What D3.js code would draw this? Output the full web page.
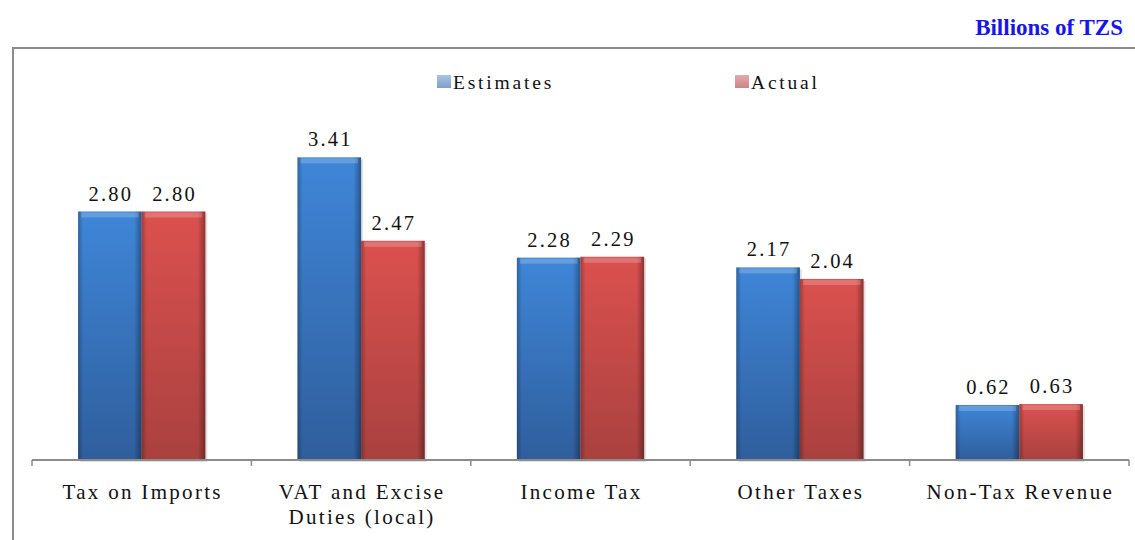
<!DOCTYPE html>
<html><head><meta charset="utf-8">
<script src="https://cdn.jsdelivr.net/npm/d3@7"></script>
<style>body{margin:0;background:#fff}svg{display:block}</style>
</head><body>
<script>
const categories = ["Tax on Imports", "VAT and Excise\nDuties (local)", "Income Tax", "Other Taxes", "Non-Tax Revenue"];
const seriesNames = ["Estimates", "Actual"];
const estimates = [2.80, 3.41, 2.28, 2.17, 0.62];
const actual = [2.80, 2.47, 2.29, 2.04, 0.63];
const unitLabel = "Billions of TZS";

const W = 1135, H = 540;
const svg = d3.select("body").append("svg").attr("width", W).attr("height", H);
const defs = svg.append("defs");
const font = "'Liberation Serif','Times New Roman',serif";

function makeGrads(id, top, bottom) {
  const g = defs.append("linearGradient").attr("id", id + "V").attr("x1", 0).attr("x2", 0).attr("y1", 0).attr("y2", 1);
  g.append("stop").attr("offset", 0).attr("stop-color", top);
  g.append("stop").attr("offset", 1).attr("stop-color", bottom);
  const h = defs.append("linearGradient").attr("id", id + "H").attr("x1", 0).attr("x2", 1).attr("y1", 0).attr("y2", 0);
  h.append("stop").attr("offset", 0).attr("stop-color", "#000").attr("stop-opacity", 0.25);
  h.append("stop").attr("offset", 0.08).attr("stop-color", "#000").attr("stop-opacity", 0.0);
  h.append("stop").attr("offset", 0.88).attr("stop-color", "#000").attr("stop-opacity", 0.0);
  h.append("stop").attr("offset", 1).attr("stop-color", "#000").attr("stop-opacity", 0.35);
}
makeGrads("blue", "#3f86d8", "#2f5e9c");
makeGrads("red", "#db514f", "#a9413f");
const colors = ["blue", "red"];
const lgBlue = defs.append("linearGradient").attr("id", "lgB").attr("x1", 0).attr("x2", 0).attr("y1", 0).attr("y2", 1);
lgBlue.append("stop").attr("offset", 0).attr("stop-color", "#a9c4e6");
lgBlue.append("stop").attr("offset", 1).attr("stop-color", "#7f9fc8");
const lgRed = defs.append("linearGradient").attr("id", "lgR").attr("x1", 0).attr("x2", 0).attr("y1", 0).attr("y2", 1);
lgRed.append("stop").attr("offset", 0).attr("stop-color", "#e6aaaa");
lgRed.append("stop").attr("offset", 1).attr("stop-color", "#c88585");
const legendColors = ["url(#lgB)", "url(#lgR)"];

// Frame
svg.append("path").attr("d", `M13,${H} L13,48 L${W},48`).attr("fill", "none").attr("stroke", "#8c8c8c").attr("stroke-width", 2);

// Unit label
svg.append("text").attr("x", 1123).attr("y", 35).attr("text-anchor", "end")
  .attr("font-family", font).attr("font-weight", "bold").attr("font-size", 23).attr("fill", "#1515ee").text(unitLabel);

const x0 = d3.scaleBand().domain(d3.range(categories.length)).range([32, 1129]).paddingInner(0).paddingOuter(0);
const x1 = d3.scaleBand().domain(d3.range(seriesNames.length)).range([x0.bandwidth() * 0.21, x0.bandwidth() * 0.79]);
const y = d3.scaleLinear().domain([0, 4]).range([460, 105]);

const series = [estimates, actual];
const data = [];
categories.forEach((c, i) => series.forEach((s, j) => data.push({ i, j, v: s[i] })));

const bars = svg.append("g").selectAll("g").data(data).join("g")
  .attr("transform", d => `translate(${x0(d.i) + x1(d.j)},0)`);
bars.append("rect").attr("x", 2).attr("y", d => y(d.v) + 2).attr("width", x1.bandwidth()).attr("height", d => 460 - y(d.v)).attr("fill", "#000").attr("opacity", 0.12);
bars.append("rect").attr("x", 0).attr("y", d => y(d.v)).attr("width", x1.bandwidth()).attr("height", d => 460 - y(d.v))
  .attr("fill", d => `url(#${colors[d.j]}V)`);
bars.append("rect").attr("x", 0).attr("y", d => y(d.v)).attr("width", x1.bandwidth()).attr("height", d => 460 - y(d.v))
  .attr("fill", d => `url(#${colors[d.j]}H)`);
bars.append("rect").attr("x", 3).attr("y", d => y(d.v) + 1).attr("width", x1.bandwidth() - 6).attr("height", 5)
  .attr("fill", "#fff").attr("opacity", 0.2);

// value labels
svg.append("g").selectAll("text").data(data).join("text")
  .attr("x", d => x0(d.i) + x1(d.j) + x1.bandwidth() / 2 + 1)
  .attr("y", d => y(d.v) - 11)
  .attr("text-anchor", "middle").attr("font-family", font).attr("font-size", 20.5).attr("fill", "#111")
  .attr("letter-spacing", 2.2)
  .text(d => d.v.toFixed(2));

// axis
const axis = d3.axisBottom(x0).tickSize(0).tickFormat("");
const ag = svg.append("g").attr("transform", "translate(0,460)").call(axis);
ag.select(".domain").attr("stroke", "#8c8c8c").attr("stroke-width", 2).attr("d", "M32,0H1129");
ag.selectAll(".tick").remove();
const edges = d3.range(categories.length + 1).map(i => i < categories.length ? x0(i) : x0.range()[1]);
ag.selectAll(".edge").data(edges).join("line").attr("x1", d => d).attr("x2", d => d).attr("y1", 0).attr("y2", 6)
  .attr("stroke", "#8c8c8c").attr("stroke-width", 1.5);

// category labels
const cl = svg.append("g").selectAll("text").data(categories).join("text")
  .attr("x", (d, i) => x0(i) + x0.bandwidth() / 2 + 1).attr("y", 499)
  .attr("text-anchor", "middle").attr("font-family", font).attr("font-size", 21).attr("fill", "#111")
  .attr("letter-spacing", 2.3);
cl.each(function (d) {
  const t = d3.select(this);
  d.split("\n").forEach((line, k) => t.append("tspan").attr("x", t.attr("x")).attr("dy", k ? 25 : 0).text(line));
});

// legend
const legendX = [437, 735];
const lg = svg.append("g").selectAll("g").data(seriesNames).join("g").attr("transform", (d, i) => `translate(${legendX[i]},0)`);
lg.append("rect").attr("x", 0).attr("y", 75).attr("width", 14).attr("height", 13).attr("fill", (d, i) => legendColors[i]);
lg.append("text").attr("x", 16).attr("y", 89).attr("font-family", font).attr("font-size", 19.5).attr("fill", "#111")
  .attr("letter-spacing", 2.8).text(d => d);
</script>
</body></html>
